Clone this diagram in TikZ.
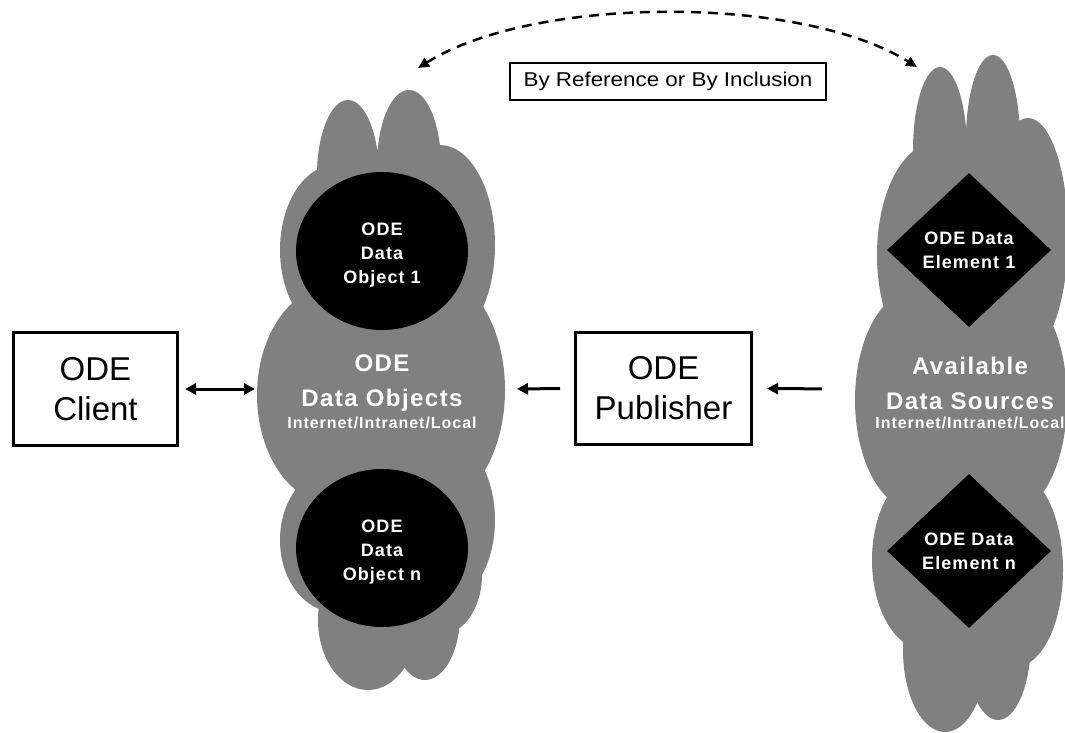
\documentclass[tikz,border=0pt]{standalone}
\usepackage{fontspec}
\setmainfont{Liberation Sans}
\newfontfamily\boxfont{Liberation Sans}
\newfontfamily\tagfont{Liberation Sans}[FakeStretch=1.12]
\newfontfamily\cloudfont{Liberation Sans}[LetterSpace=6]
\usetikzlibrary{shapes.geometric,arrows.meta}
\definecolor{cloudgray}{RGB}{128,128,128}

\tikzset{
  cloudbound/.style={inner sep=0pt, outer sep=0pt},
  boxnode/.style={draw, line width=3pt, inner sep=0pt, align=center,
    font=\boxfont\fontsize{33}{40}\selectfont},
  tagbox/.style={draw, line width=1.5pt, inner sep=0pt, minimum width=316pt,
    minimum height=37pt, font=\tagfont\fontsize{20}{24}\selectfont},
  objcircle/.style={ellipse, fill=black, inner sep=0pt, minimum width=172pt,
    minimum height=158pt},
  elemdiamond/.style={diamond, fill=black, inner sep=0pt, minimum width=164pt,
    minimum height=154pt},
  innertext/.style={text=white, align=center, inner sep=0pt,
    font=\cloudfont\bfseries\fontsize{18}{24}\selectfont},
  cloudtitle/.style={text=white, align=center, inner sep=0pt,
    font=\cloudfont\bfseries\fontsize{24}{35}\selectfont},
  cloudsub/.style={text=white, inner sep=0pt,
    font=\cloudfont\bfseries\fontsize{16}{19}\selectfont},
  flow/.style={line width=3pt, -{Triangle[length=11pt,width=11pt]}},
  bothflow/.style={line width=3pt, {Triangle[length=11pt,width=11pt]}-{Triangle[length=11pt,width=11pt]}},
  linkarc/.style={line width=2.5pt, dash pattern=on 10pt off 7pt,
    {Triangle[length=11pt,width=10pt]}-{Triangle[length=11pt,width=10pt]}}
}

\begin{document}
\begin{tikzpicture}[x=1pt, y=-1pt]
\useasboundingbox[fill=white] (0,0) rectangle (1065,733);

% cloud holding the ODE data objects
\fill[cloudgray]
  (348,175) ellipse [x radius=31pt, y radius=75pt]
  (409,165) ellipse [x radius=32pt, y radius=75pt]
  (335,250) ellipse [x radius=55pt, y radius=85pt]
  (440,245) ellipse [x radius=55pt, y radius=100pt]
  (335,395) ellipse [x radius=78pt, y radius=110pt]
  (427,390) ellipse [x radius=78pt, y radius=120pt]
  (440,520) ellipse [x radius=55pt, y radius=85pt]
  (335,540) ellipse [x radius=55pt, y radius=72pt]
  (440,575) ellipse [x radius=42pt, y radius=60pt]
  (368,620) ellipse [x radius=50pt, y radius=70pt]
  (425,615) ellipse [x radius=35pt, y radius=65pt];
\node[cloudbound, minimum width=248pt, minimum height=600pt] (objcloud) at (381,389) {};

% cloud of available data sources
\fill[cloudgray]
  (940,150) ellipse [x radius=27pt, y radius=83pt]
  (993,140) ellipse [x radius=27pt, y radius=85pt]
  (935,255) ellipse [x radius=58pt, y radius=112pt]
  (1028,235) ellipse [x radius=40pt, y radius=117pt]
  (968,400) ellipse [x radius=70pt, y radius=150pt]
  (915,400) ellipse [x radius=60pt, y radius=110pt]
  (1012,400) ellipse [x radius=55pt, y radius=112pt]
  (925,560) ellipse [x radius=53pt, y radius=90pt]
  (1015,570) ellipse [x radius=48pt, y radius=97pt]
  (945,650) ellipse [x radius=42pt, y radius=82pt]
  (998,640) ellipse [x radius=33pt, y radius=80pt];
\node[cloudbound, minimum width=210pt, minimum height=680pt] (srccloud) at (960,389) {};

% data objects and data elements
\node[objcircle] (obj1) at (382,251) {};
\node[objcircle] (objn) at (382,548) {};
\node[elemdiamond] (elem1) at (969,250) {};
\node[elemdiamond] (elemn) at (969,551) {};
\node[innertext] (obj1text) at ([yshift=-4pt]obj1.center) {ODE\\Data\\Object 1};
\node[innertext] (objntext) at ([yshift=-4pt]objn.center) {ODE\\Data\\Object n};
\node[innertext] (elem1text) at (elem1.center) {ODE Data\\Element 1};
\node[innertext] (elemntext) at (elemn.center) {ODE Data\\Element n};

% cloud captions
\node[cloudtitle] (objtitle) at (382,383) {ODE\\Data Objects};
\node[cloudsub] (objsub) at (382,423) {Internet/Intranet/Local};
\node[cloudtitle] (srctitle) at (970,383) {Available\\Data Sources};
\node[cloudsub] (srcsub) at (970,423) {Internet/Intranet/Local};

% client and publisher
\node[boxnode, minimum width=164pt, minimum height=113pt] (client) at (95.5,389) {ODE\\Client};
\node[boxnode, minimum width=176pt, minimum height=112pt] (publisher) at (663.5,388.5) {ODE\\Publisher};

% relation label
\node[tagbox] (tag) at (668,81.5) {By Reference or By Inclusion};

% connectors
\draw[bothflow, shorten <=6pt, shorten >=2pt] (client.east) -- (objcloud.west);
\draw[flow, shorten <=14pt, shorten >=12pt] (publisher.west) -- (objcloud.east);
\draw[flow, shorten <=33pt, shorten >=14pt] (srccloud.west) -- (publisher.east);

\coordinate (arcL) at (418,68);
\coordinate (arcR) at (917,67);
\draw[linkarc] (arcL) .. controls (535,-5) and (801,-5) .. (arcR);
\end{tikzpicture}
\end{document}
